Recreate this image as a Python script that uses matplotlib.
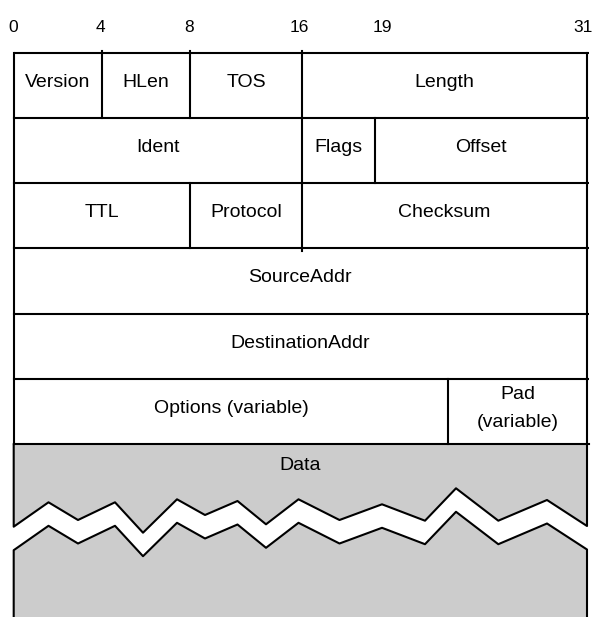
import matplotlib
matplotlib.use("Agg")
import matplotlib.pyplot as plt

plt.rcParams['font.family'] = ['Liberation Sans', 'DejaVu Sans']

# bit numbers written above the header and where they sit
bit_labels = ["0", "4", "8", "16", "19", "31"]
bit_label_x = [13.3, 100, 189, 299, 382, 582.7]

# x position of each field boundary (the drawing is not to scale)
col_x = {0: 13.7, 4: 101.7, 8: 190, 16: 302, 19: 374.5, 24: 448.3, 32: 587}

# y of the row lines, top to bottom
row_y = [52.5, 117.7, 183, 248.3, 313.5, 379, 444.3]

# fields of each 32 bit row: (name, first bit, end bit)
rows = [
    [("Version", 0, 4), ("HLen", 4, 8), ("TOS", 8, 16), ("Length", 16, 32)],
    [("Ident", 0, 16), ("Flags", 16, 19), ("Offset", 19, 32)],
    [("TTL", 0, 8), ("Protocol", 8, 16), ("Checksum", 16, 32)],
    [("SourceAddr", 0, 32)],
    [("DestinationAddr", 0, 32)],
    [("Options (variable)", 0, 24), ("Pad\n(variable)", 24, 32)],
]

# zigzag edge of the torn data block (upper edge, lower edge is shifted down)
tear_x = [13.7, 48.5, 78, 115, 143, 177, 205, 237.5, 266, 298.5, 339.5, 382,
          425, 456, 498.3, 547, 587]
tear_y = [526.7, 502.3, 520, 502.3, 532.7, 499.3, 515, 501, 524.3, 499.3, 520,
          504.3, 520.7, 488.3, 520.7, 500, 526]
tear_gap = 23.5
data_bottom = 617

grey = "#cccccc"
lw = 1.5

fig = plt.figure(figsize=(5.97, 6.17), dpi=100)
ax = fig.add_axes([0, 0, 1, 1])
ax.set_xlim(0, 597)
ax.set_ylim(617, 0)
ax.axis('off')

left = col_x[0]
right = col_x[32]

# bit numbers
for lab, x in zip(bit_labels, bit_label_x):
    ax.text(x, 28, lab, ha='center', va='center', fontsize=12.5)

# header rows
for i, fields in enumerate(rows):
    top = row_y[i]
    bot = row_y[i + 1]
    ax.plot([left, right + 2], [top, top], color='black', lw=lw,
            solid_capstyle='butt')
    for name, b0, b1 in fields:
        x0 = col_x[b0]
        x1 = col_x[b1]
        if b0 > 0:
            # a little tick above the top row for the first fields
            y0 = top - 2 if i == 0 else top
            y1 = bot + 3 if (b0 == 16 and i == 2) else bot
            ax.plot([x0, x0], [y0, y1], color='black', lw=lw)
        cx = (x0 + x1) / 2
        lines = name.split("\n")
        cy = (top + bot) / 2 - 3
        n = len(lines)
        for k, ln in enumerate(lines):
            ax.text(cx, cy + (k - (n - 1) / 2) * 28.3, ln, ha='center',
                    va='center', fontsize=14)
    ax.plot([left, left], [top, bot], color='black', lw=lw)
    ax.plot([right, right], [top, bot], color='black', lw=lw)

# data block
data_top = row_y[-1]
low_y = [y + tear_gap for y in tear_y]
ax.fill([left, right] + tear_x[::-1], [data_top, data_top] + tear_y[::-1],
        color=grey, lw=0)
ax.fill(tear_x + [right, left], low_y + [data_bottom, data_bottom],
        color=grey, lw=0)
ax.plot([left, right + 2], [data_top, data_top], color='black', lw=lw)
ax.plot([left] + tear_x + [right], [data_top] + tear_y + [data_top],
        color='black', lw=lw)
ax.plot([left] + tear_x + [right], [data_bottom] + low_y + [data_bottom],
        color='black', lw=lw)
ax.text((left + right) / 2, 465, "Data", ha='center', va='center', fontsize=14)

fig.savefig("out.png", dpi=100)
